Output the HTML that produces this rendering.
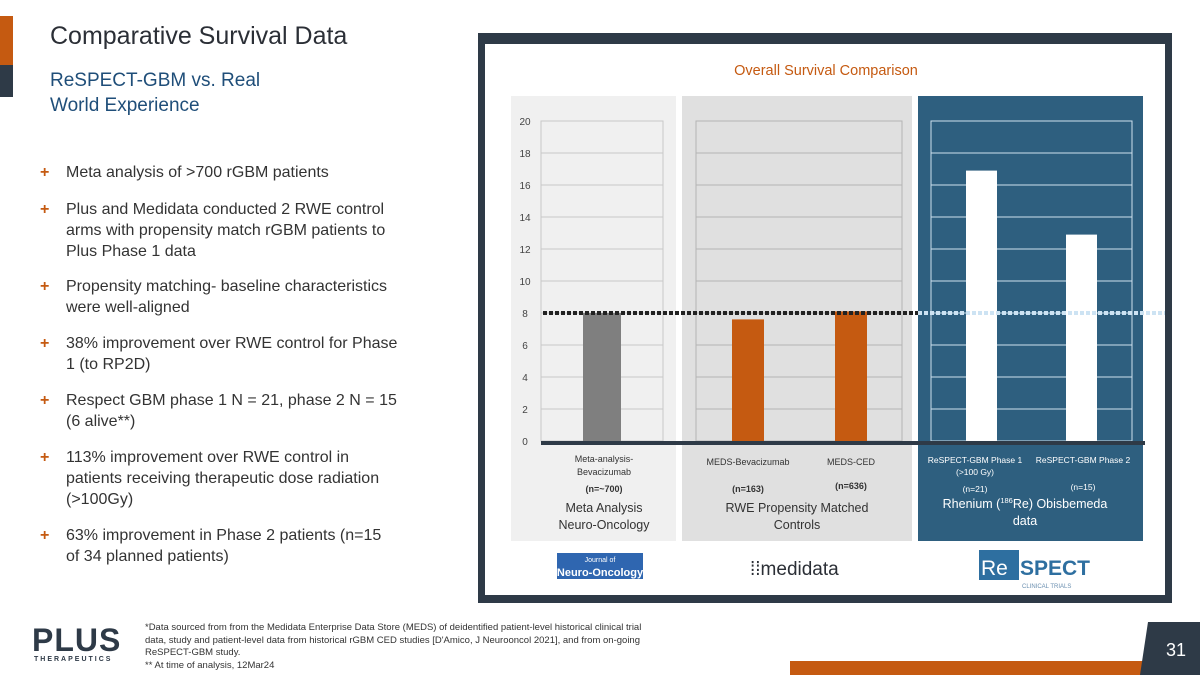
<!DOCTYPE html>
<html><head><meta charset="utf-8"><style>
body{margin:0;width:1200px;height:675px;background:#fff;position:relative;overflow:hidden;font-family:"Liberation Sans",sans-serif}
.abs{position:absolute}
.b{position:absolute;left:66px;font-size:16px;color:#333;line-height:21px;width:332px}
.b span{color:#c55a11;position:absolute;left:-26px;font-weight:bold}
</style></head><body>
<div class="abs" style="left:0;top:16px;width:13px;height:49px;background:#c55a11"></div>
<div class="abs" style="left:0;top:65px;width:13px;height:32px;background:#2e3a47"></div>
<div class="abs" style="left:50px;top:22px;font-size:25px;color:#2b2f36">Comparative Survival Data</div>
<div class="abs" style="left:50px;top:68px;font-size:19px;color:#1f4e79;line-height:25px">ReSPECT-GBM vs. Real<br>World Experience</div>
<div>
<div class="b" style="top:162px"><span>+</span>Meta analysis of &gt;700 rGBM patients</div>
<div class="b" style="top:199px"><span>+</span>Plus and Medidata conducted 2 RWE control arms with propensity match rGBM patients to Plus Phase 1 data</div>
<div class="b" style="top:276px"><span>+</span>Propensity matching- baseline characteristics were well-aligned</div>
<div class="b" style="top:333px"><span>+</span>38% improvement over RWE control for Phase 1 (to RP2D)</div>
<div class="b" style="top:390px"><span>+</span>Respect GBM phase 1 N = 21, phase 2 N = 15 (6 alive**)</div>
<div class="b" style="top:447px"><span>+</span>113% improvement over RWE control in patients receiving therapeutic dose radiation (&gt;100Gy)</div>
<div class="b" style="top:525px"><span>+</span>63% improvement in Phase 2 patients (n=15 of 34 planned patients)</div>
</div>

<svg class="abs" style="left:0;top:0" width="1200" height="675" font-family="Liberation Sans, sans-serif">
<rect x="478" y="33" width="694" height="570" fill="#2e3a47"/>
<rect x="485" y="44" width="680" height="551" fill="#fff"/>
<text x="826" y="75" text-anchor="middle" font-size="14.5" fill="#c55a11">Overall Survival Comparison</text>
<rect x="511" y="96" width="165" height="445" fill="#f0f0f0"/>
<rect x="682" y="96" width="230" height="445" fill="#e0e0e0"/>
<rect x="918" y="96" width="225" height="445" fill="#2e5f7f"/>
<g id="grid"></g><g id="bars"></g>
<g font-size="9" fill="#333" text-anchor="middle">
<text x="604" y="462">Meta-analysis-</text>
<text x="604" y="475">Bevacizumab</text>
<text x="604" y="492" font-weight="bold">(n=~700)</text>
<text x="748" y="465">MEDS-Bevacizumab</text>
<text x="851" y="465">MEDS-CED</text>
<text x="748" y="492" font-weight="bold">(n=163)</text>
<text x="851" y="489" font-weight="bold">(n=636)</text>
</g>
<g font-size="12.5" fill="#333" text-anchor="middle">
<text x="604" y="512">Meta Analysis</text>
<text x="604" y="529">Neuro-Oncology</text>
<text x="797" y="512">RWE Propensity Matched</text>
<text x="797" y="529">Controls</text>
</g>
<g font-size="8.5" fill="#fff" text-anchor="middle">
<text x="975" y="463">ReSPECT-GBM Phase 1</text>
<text x="1083" y="463">ReSPECT-GBM Phase 2</text>
<text x="975" y="475">(&gt;100 Gy)</text>
<text x="975" y="492">(n=21)</text>
<text x="1083" y="490">(n=15)</text>
</g>
<text x="1025" y="508" text-anchor="middle" font-size="12.5" fill="#fff">Rhenium (<tspan font-size="7.5" dy="-5">186</tspan><tspan dy="5">Re) Obisbemeda</tspan></text>
<text x="1025" y="525" text-anchor="middle" font-size="12.5" fill="#fff">data</text>
<rect x="557" y="553" width="86" height="26" fill="#2f66b0"/>
<text x="600" y="562" text-anchor="middle" font-size="7" fill="#fff">Journal of</text>
<text x="600" y="576" text-anchor="middle" font-size="11" font-weight="bold" fill="#fff">Neuro-Oncology</text>
<text x="750" y="575" font-size="19" fill="#2b2f36">⁞⁞medidata</text>
<rect x="979" y="550" width="40" height="30" fill="#2e6fa0"/>
<text x="981" y="575" font-size="21" fill="#fff">Re</text>
<text x="1020" y="575" font-size="21" font-weight="bold" fill="#2e6fa0">SPECT</text>
<text x="1022" y="588" font-size="6" fill="#6a8fb0">CLINICAL TRIALS</text>
</svg>

<div class="abs" style="left:32px;top:622px;font-size:32px;font-weight:bold;color:#2e3a47;letter-spacing:1px">PLUS</div>
<div class="abs" style="left:34px;top:656px;font-size:7px;font-weight:bold;color:#2e3a47;letter-spacing:2px">THERAPEUTICS</div>
<div class="abs" style="left:145px;top:622px;font-size:9.5px;line-height:12.5px;color:#333;width:505px">*Data sourced from from the Medidata Enterprise Data Store (MEDS) of deidentified patient-level historical clinical trial data, study and patient-level data from historical rGBM CED studies [D'Amico, J Neurooncol 2021], and from on-going ReSPECT-GBM study.<br>** At time of analysis, 12Mar24</div>
<div class="abs" style="left:790px;top:661px;width:360px;height:14px;background:#c55a11"></div>
<svg class="abs" style="left:1140px;top:622px" width="60" height="53"><polygon points="8,0 60,0 60,53 0,53" fill="#2e3a47"/><text x="36" y="34" text-anchor="middle" font-size="18" fill="#fff" font-family="Liberation Sans">31</text></svg>

<script>
const categories=["Meta-analysis-Bevacizumab","MEDS-Bevacizumab","MEDS-CED","ReSPECT-GBM Phase 1","ReSPECT-GBM Phase 2"];
const survivalMonths=[8.0,7.6,8.1,16.9,12.9];
const tickValues=[0,2,4,6,8,10,12,14,16,18,20];
const controlBenchmark=[8];
const NS="http://www.w3.org/2000/svg";
const y=v=>441-v*16;
const barX=[583,732,835,966,1066], barW=[38,32,32,31,31];
const barColors=["#7f7f7f","#c55a11","#c55a11","#fff","#fff"];
const plots=[[541,663,"#c8c8c8"],[696,902,"#b4b4b4"],[931,1132,"#cfe0ee"]];
const g=document.getElementById('grid'),bg=document.getElementById('bars');
function mk(t,a,p){const e=document.createElementNS(NS,t);for(const k in a)e.setAttribute(k,a[k]);p.appendChild(e);return e;}
plots.forEach(p=>{
  tickValues.forEach(v=>{const l=mk('line',{x1:p[0],x2:p[1],y1:y(v),y2:y(v),stroke:p[2],'stroke-width':1},g);
  
  });
  mk('rect',{x:p[0],y:y(20),width:p[1]-p[0],height:320,fill:'none',stroke:p[2]},g);
});
tickValues.forEach(v=>{const t=mk('text',{x:525,y:y(v)+4,'text-anchor':'middle','font-size':10,fill:'#444'},g);t.textContent=v;

});
survivalMonths.forEach((v,i)=>{const r=mk('rect',{x:barX[i],y:y(v),width:barW[i],height:y(0)-y(v),fill:barColors[i]},bg);

});
const d1=mk('line',{x1:543,x2:918,y1:y(controlBenchmark[0]),y2:y(controlBenchmark[0]),stroke:'#222','stroke-width':4,'stroke-dasharray':'4 2'},bg);


const d2=mk('line',{x1:918,x2:1165,y1:y(controlBenchmark[0]),y2:y(controlBenchmark[0]),stroke:'#cde3f3','stroke-width':4,'stroke-dasharray':'4 2'},bg);


const ax=mk('line',{x1:541,x2:1145,y1:443,y2:443,stroke:'#2e3a47','stroke-width':4},bg);


</script>
</body></html>
